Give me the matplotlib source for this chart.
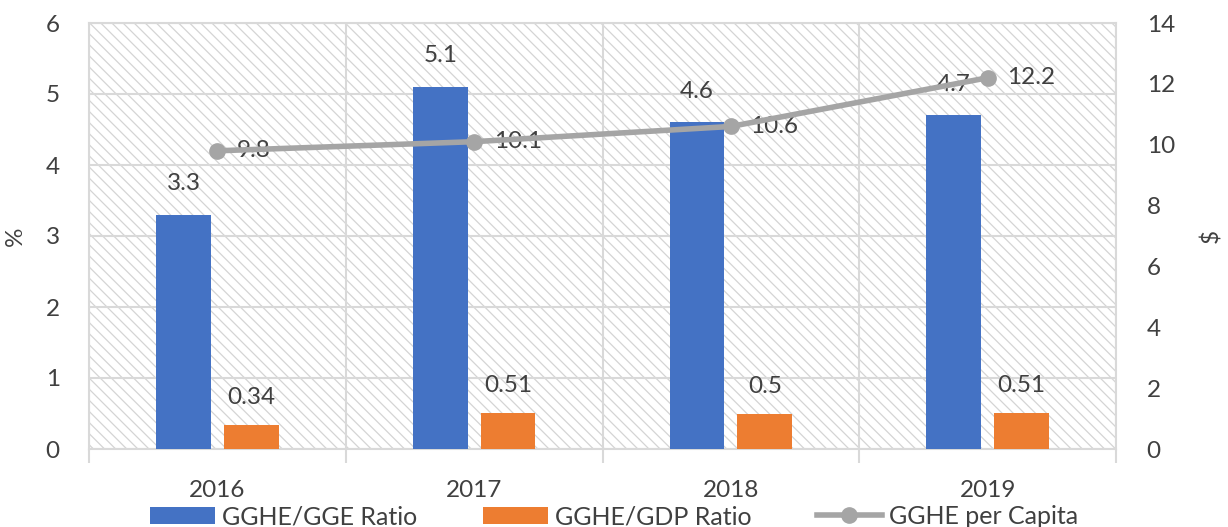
import matplotlib
matplotlib.use("Agg")
import matplotlib.pyplot as plt
import numpy as np

years = ["2016", "2017", "2018", "2019"]
gghe_gge = [3.3, 5.1, 4.6, 4.7]
gghe_gdp = [0.34, 0.51, 0.5, 0.51]
gghe_per_capita = [9.8, 10.1, 10.6, 12.2]

BLUE = "#4472c4"
ORANGE = "#ed7d31"
GRAY = "#a5a5a5"
TEXT = "#404040"
GRID = "#d9d9d9"

plt.rcParams["font.family"] = ["Lato", "DejaVu Sans"]
plt.rcParams["hatch.color"] = "#d4d4d4"
plt.rcParams["hatch.linewidth"] = 0.9

fig = plt.figure(figsize=(12.28, 5.27), dpi=100)
ax = fig.add_axes([89 / 1228, 1 - 449 / 527, (1116 - 89) / 1228, (449 - 23) / 527])
ax2 = ax.twinx()

x = np.arange(len(years))
w = 0.213
off = 0.132

# hatched plot background
ax.patch.set_facecolor("white")
ax.patch.set_hatch("\\\\\\")
ax.patch.set_edgecolor("#d4d4d4")
ax.patch.set_linewidth(0)

b1 = ax.bar(x - off, gghe_gge, w, color=BLUE, zorder=3, label="GGHE/GGE Ratio")
b2 = ax.bar(x + off, gghe_gdp, w, color=ORANGE, zorder=3, label="GGHE/GDP Ratio")

ax.set_xlim(-0.5, len(years) - 0.5)
ax.set_ylim(0, 6)
ax.set_yticks(range(0, 7))
ax.set_xticks(x)
ax.set_xticklabels(years)
ax.set_xticks(np.arange(-0.5, len(years)), minor=True)
ax.tick_params(axis="x", which="major", length=0, pad=22, labelsize=17.5, labelcolor=TEXT)
ax.tick_params(axis="x", which="minor", length=10, width=1.5, color=GRID)
ax.tick_params(axis="y", length=0, pad=21, labelsize=17.5, labelcolor=TEXT)

ax.grid(axis="y", color=GRID, linewidth=1.5, zorder=1)
ax.grid(axis="x", which="minor", color=GRID, linewidth=1.5, zorder=1)
ax.set_axisbelow(True)
for side in ["top", "left", "right", "bottom"]:
    ax.spines[side].set_color(GRID)
    ax.spines[side].set_linewidth(1.5)

ax.set_ylabel("%", fontsize=17.5, color=TEXT, labelpad=14)

for bars, vals, dy in ((b1, gghe_gge, 31), (b2, gghe_gdp, 27)):
    for bar, v in zip(bars, vals):
        ax.annotate(f"{v:g}", (bar.get_x() + bar.get_width() / 2, v),
                    xytext=(0, dy * 0.72), textcoords="offset points",
                    ha="center", va="center", fontsize=17.5, color=TEXT, zorder=5)

ln, = ax2.plot(x, gghe_per_capita, color=GRAY, linewidth=4, marker="o",
               markersize=11, zorder=4, label="GGHE per Capita")
for xi, v in zip(x, gghe_per_capita):
    ax2.annotate(f"{v:g}", (xi, v), xytext=(14, 0), textcoords="offset points",
                 ha="left", va="center", fontsize=17.5, color=TEXT)

ax2.set_ylim(0, 14)
ax2.set_yticks(range(0, 15, 2))
ax2.tick_params(axis="y", length=0, pad=22, labelsize=17.5, labelcolor=TEXT)
for s in ax2.spines.values():
    s.set_visible(False)
ax2.set_ylabel("$", fontsize=17.5, color=TEXT, labelpad=18, rotation=90)

fig.legend(handles=[b1, b2, ln], loc="lower center", bbox_to_anchor=(0.5, -0.045),
           ncol=3, frameon=False, fontsize=18, labelcolor=TEXT,
           handlelength=2.6, handletextpad=0.3, columnspacing=2.6)

fig.savefig("out.png", dpi=100)
